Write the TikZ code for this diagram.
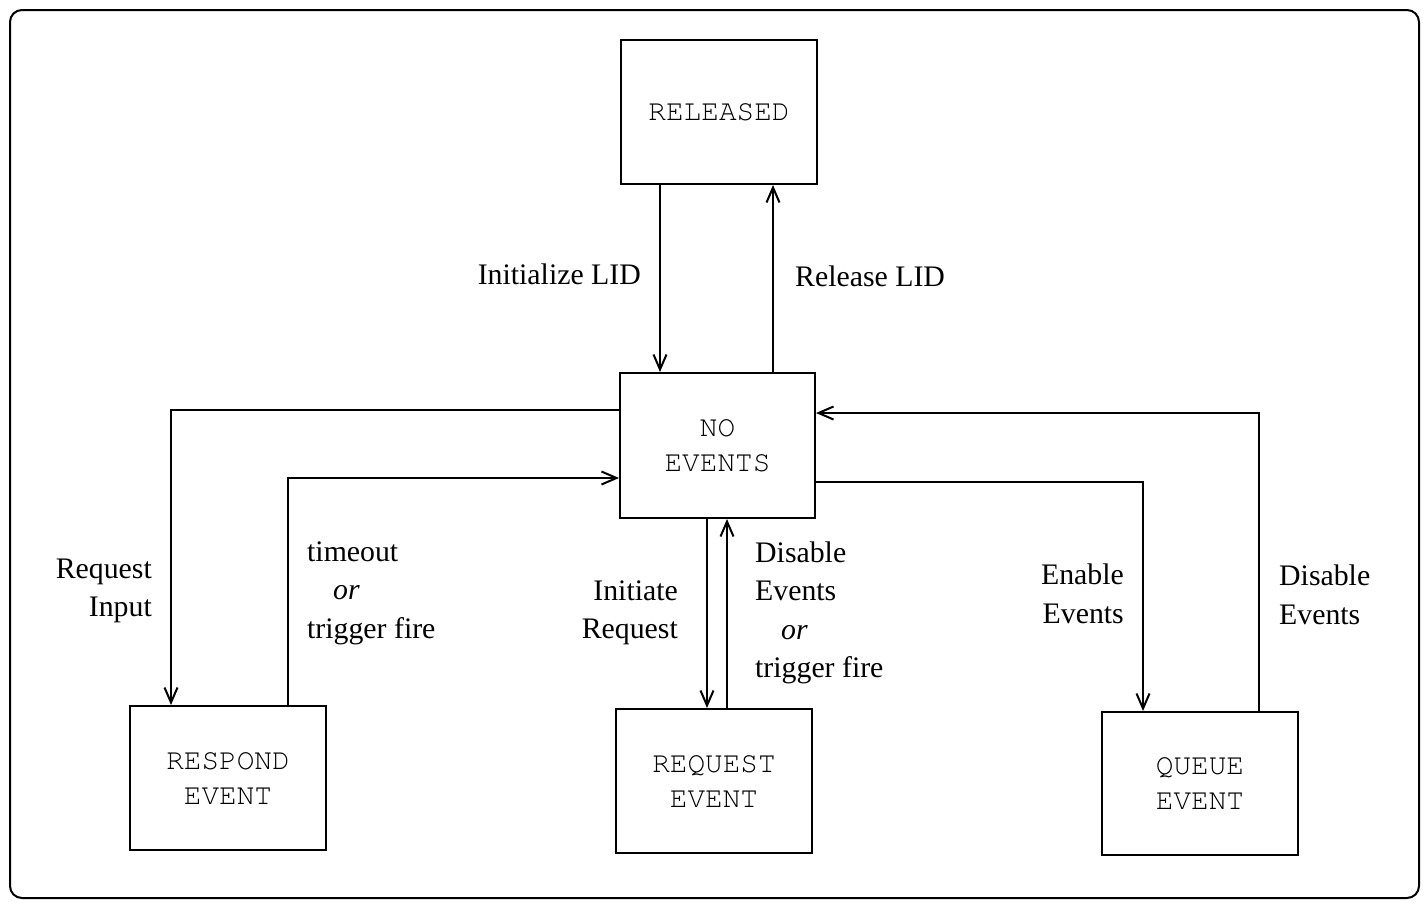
\documentclass[tikz,border=0pt]{standalone}
\usepackage[T1]{fontenc}
\usepackage{fontspec}
\setmainfont{Liberation Serif}
\usetikzlibrary{arrows.meta}
\newcommand{\courierfont}{\fontencoding{T1}\fontfamily{pcr}\fontsize{29.4}{35}\selectfont}
\tikzset{
  state/.style={draw, line width=2pt, minimum width=196pt, minimum height=144pt, inner sep=0pt,
    align=center, font=\courierfont},
  conn/.style={line width=2pt, -{Straight Barb[length=15pt,width=13pt,line width=2pt]}},
  lbl/.style={inner sep=0pt, font=\fontsize{29.8}{38.5}\selectfont},
}
\begin{document}
\begin{tikzpicture}[x=1pt,y=-1pt]
\useasboundingbox (0,0) rectangle (1426,903);
\draw[line width=2pt, rounded corners=12pt] (10,10) rectangle (1419,898);

\node[state] (released) at (719,112) {RELEASED};
\node[state, minimum width=195pt, minimum height=145pt] (noev) at (717.5,445.5) {NO\\EVENTS};
\node[state] (respond) at (228,778) {RESPOND\\EVENT};
\node[state] (request) at (714,781) {REQUEST\\EVENT};
\node[state, minimum height=143pt] (queue) at (1200,783.5) {QUEUE\\EVENT};

\draw[conn] (released.south -| 660,0) -- (noev.north -| 660,0);
\draw[conn] (noev.north -| 773,0) -- (released.south -| 773,0);
\draw[conn] (noev.west |- 0,410) -| (respond.north -| 171,0);
\draw[conn] (respond.north -| 288,0) |- (noev.west |- 0,478);
\draw[conn] (noev.south -| 707,0) -- (request.north -| 707,0);
\draw[conn] (request.north -| 727,0) -- (noev.south -| 727,0);
\draw[conn] (noev.east |- 0,482) -| (queue.north -| 1143,0);
\draw[conn] (queue.north -| 1259,0) |- (noev.east |- 0,413);

\node[lbl, anchor=east] (linit) at (641,274) {Initialize LID};
\node[lbl, anchor=west] (lrel) at (795,276) {Release LID};
\node[lbl, anchor=east, align=right] (lreq) at (152,591) {Request\\Input};
\node[lbl, anchor=west, align=left] (ltime) at (307,593) {timeout\\\hspace*{26pt}\textit{or}\\trigger fire};
\node[lbl, anchor=east, align=right] (linit2) at (678,613) {Initiate\\Request};
\node[lbl, anchor=west, align=left] (ldis) at (755,613) {Disable\\Events\\\hspace*{26pt}\textit{or}\\trigger fire};
\node[lbl, anchor=east, align=right] (len) at (1124,594) {Enable\\Events};
\node[lbl, anchor=west, align=left] (ldis2) at (1279,595) {Disable\\Events};
\end{tikzpicture}
\end{document}
